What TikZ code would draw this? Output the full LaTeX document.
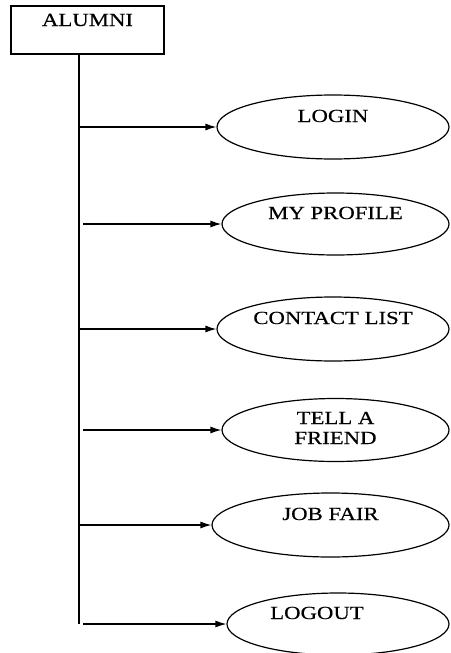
\documentclass[tikz,border=0pt]{standalone}
\usepackage{fontspec}
\setmainfont{Liberation Serif}[FakeStretch=1.23,FakeBold=0.4]
\usetikzlibrary{shapes.geometric,arrows.meta}
\tikzset{>={Latex[length=11pt,width=7pt]}}

\begin{document}
\begin{tikzpicture}[x=1pt,y=-1pt,
  font=\fontsize{18.5}{20}\selectfont,
  actor/.style={draw,line width=1.6pt,inner sep=0pt,minimum width=153pt,minimum height=48pt,text height=20pt,text depth=28pt},
  usecase/.style={draw,ellipse,line width=1.2pt,inner sep=0pt,minimum width=230pt,minimum height=64pt,text height=12pt,text depth=22pt},
  link/.style={->,line width=1.2pt}]
  \useasboundingbox (0,0) rectangle (450,653);
  % actor and its line
  \node[actor] (alumni) at (87.5,30) {ALUMNI};
  \coordinate (top) at (79,54);
  \coordinate (bottom) at (79,624);
  \draw[line width=1.6pt] (top) -- (bottom);
  % use cases
  \node[usecase,minimum width=232pt] (login) at (333,127) {LOGIN};
  \node[usecase,minimum width=227pt,minimum height=62pt] (profile) at (335.5,224) {MY PROFILE};
  \node[usecase,minimum width=232pt] (contact) at (333,329) {CONTACT LIST};
  \node[usecase,minimum width=227pt,minimum height=63pt,align=center,text height=32pt,text depth=4pt] (tell) at (335.5,430) {TELL A\\FRIEND};
  \node[usecase,minimum width=237pt] (jobfair) at (330.5,525) {JOB FAIR};
  \node[usecase,minimum width=222pt,minimum height=62pt] (logout) at (338,624) {LOGOUT\hspace*{42pt}};
  % arrows
  \draw[link] (login.west -| top) -- (login.west);
  \draw[link] ([xshift=4pt]profile.west -| top) -- (profile.west);
  \draw[link] (contact.west -| top) -- (contact.west);
  \draw[link] ([xshift=4pt]tell.west -| top) -- (tell.west);
  \draw[link] (jobfair.west -| top) -- (jobfair.west);
  \draw[link] ([xshift=4pt]logout.west -| top) -- (logout.west);
\end{tikzpicture}
\end{document}
